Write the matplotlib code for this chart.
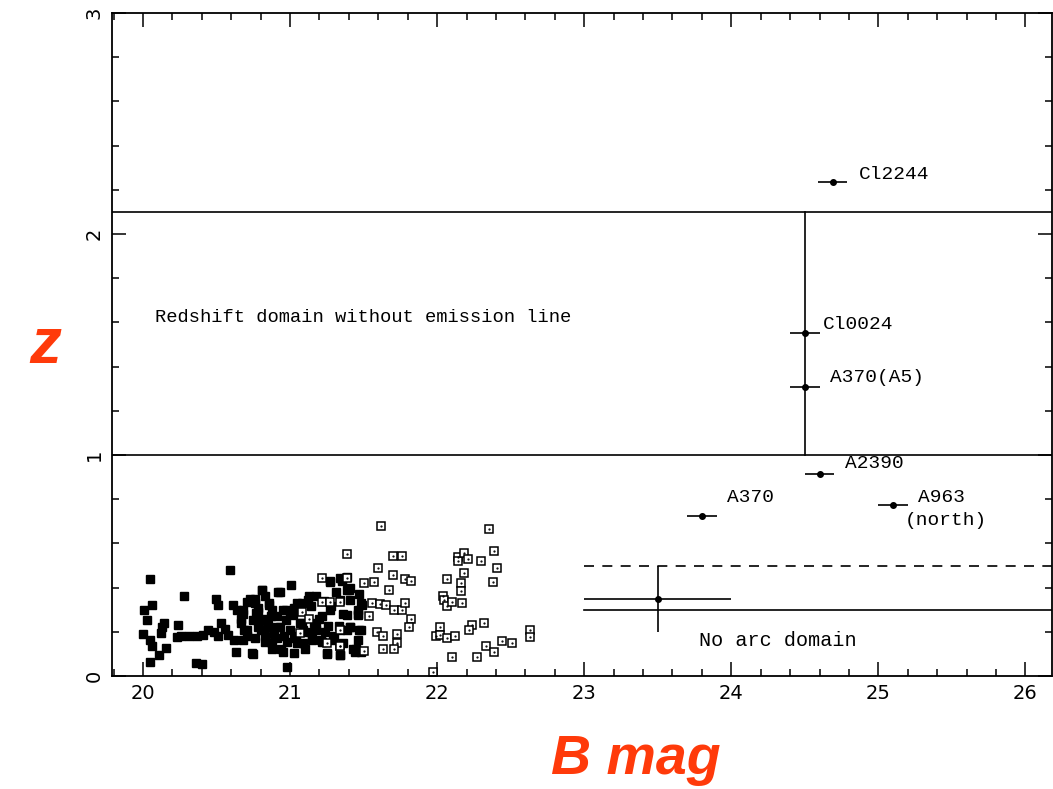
import matplotlib.pyplot as plt
from matplotlib.ticker import MultipleLocator

# --- datos ---
# galaxias de campo (cuadrados llenos)
filled_x = [20.045, 20.59, 20.28, 20.01, 20.06, 20.03, 20.14, 20.0, 20.05, 20.12, 20.13, 20.06,
            20.16, 20.11, 20.045, 20.24, 20.26, 20.23, 20.31, 20.36, 20.40, 20.37, 20.41, 20.44,
            20.48, 20.5, 20.51, 20.53, 20.51, 20.56, 20.58, 20.61, 20.62, 20.63, 20.64, 20.67,
            20.69, 20.71, 20.68, 20.73, 20.76, 20.78, 20.75, 20.77, 20.79, 20.81, 20.83, 20.80,
            20.83, 20.85, 20.86, 20.87, 20.88, 20.89, 20.91, 20.93, 20.94, 20.95, 20.96, 20.97,
            20.98, 21.0, 21.01, 21.03, 21.04, 21.05, 21.07, 21.08, 21.09, 21.10, 21.13, 21.14,
            21.15, 21.16, 21.18, 21.21, 21.22, 21.23, 21.25, 21.26, 21.27, 21.28, 21.30, 21.31,
            21.33, 21.34, 21.34, 21.35, 21.36, 21.39, 21.40, 21.39, 21.41, 21.44, 21.45, 21.46,
            21.47, 21.47, 21.49, 21.46, 21.35, 21.39, 21.48, 21.46, 21.41, 21.48, 21.43, 21.48,
            20.81, 20.76, 20.92, 20.86, 20.71, 20.68, 20.78, 20.88, 20.97, 21.05, 21.12, 21.18,
            21.27, 21.34, 21.41, 20.67, 20.75, 20.83, 20.91, 21.02, 21.08, 21.20, 21.27, 21.39,
            21.46, 20.71, 20.78, 20.85, 20.93, 21.0, 21.12, 21.18, 21.24, 21.34, 21.41, 20.68,
            20.76, 20.83, 20.91, 20.98, 21.03, 21.09, 21.15, 21.22, 21.29, 21.36, 20.74, 20.88,
            20.95, 21.03, 21.25, 21.34]
filled_y = [0.44, 0.48, 0.36, 0.30, 0.32, 0.255, 0.24, 0.19, 0.165, 0.195, 0.22, 0.135,
            0.125, 0.095, 0.065, 0.23, 0.18, 0.175, 0.18, 0.06, 0.055, 0.18, 0.185, 0.21,
            0.20, 0.35, 0.32, 0.24, 0.18, 0.215, 0.185, 0.32, 0.165, 0.11, 0.30, 0.24,
            0.21, 0.18, 0.28, 0.35, 0.33, 0.31, 0.10, 0.285, 0.25, 0.39, 0.36, 0.21,
            0.18, 0.23, 0.32, 0.27, 0.15, 0.19, 0.22, 0.38, 0.12, 0.30, 0.18, 0.255,
            0.04, 0.28, 0.41, 0.31, 0.18, 0.15, 0.24, 0.33, 0.21, 0.12, 0.36, 0.315,
            0.18, 0.24, 0.21, 0.165, 0.27, 0.34, 0.10, 0.225, 0.43, 0.315, 0.18, 0.38,
            0.225, 0.095, 0.345, 0.44, 0.28, 0.45, 0.39, 0.21, 0.345, 0.11, 0.12, 0.165,
            0.37, 0.21, 0.32, 0.28, 0.43, 0.39, 0.33, 0.275, 0.22, 0.21, 0.12, 0.11,
            0.39, 0.35, 0.38, 0.33, 0.335, 0.30, 0.29, 0.30, 0.30, 0.33, 0.345, 0.36,
            0.425, 0.445, 0.40, 0.26, 0.255, 0.26, 0.27, 0.275, 0.24, 0.26, 0.30, 0.275,
            0.30, 0.21, 0.22, 0.22, 0.22, 0.21, 0.20, 0.22, 0.20, 0.21, 0.22, 0.165,
            0.17, 0.155, 0.17, 0.155, 0.17, 0.15, 0.165, 0.155, 0.165, 0.15, 0.105, 0.12,
            0.11, 0.105, 0.105, 0.095]

# galaxias de campo (cuadrados abiertos)
open_x = [21.62, 22.35, 21.39, 21.70, 21.76, 21.60, 21.70, 21.78, 21.82, 21.50, 21.57, 21.67,
          21.56, 21.61, 21.65, 21.71, 21.76, 21.78, 21.54, 21.82, 21.81, 21.59, 21.63, 21.73,
          21.73, 21.63, 21.71, 21.34, 21.50, 21.97, 22.07, 22.14, 22.14, 22.18, 22.21, 22.30,
          22.39, 22.41, 22.38, 22.18, 22.16, 22.16, 22.04, 22.05, 22.07, 22.10, 22.17, 22.02,
          21.99, 22.02, 22.07, 22.12, 22.10, 22.24, 22.22, 22.32, 22.27, 22.33, 22.39, 22.44,
          22.51, 22.63, 22.63, 21.22, 21.22, 21.27, 21.34, 21.08, 21.13, 21.34, 21.25, 21.34,
          21.39, 21.07]
open_y = [0.68, 0.665, 0.55, 0.545, 0.545, 0.49, 0.455, 0.44, 0.43, 0.42, 0.425, 0.39,
          0.33, 0.325, 0.32, 0.30, 0.30, 0.33, 0.27, 0.26, 0.22, 0.20, 0.18, 0.19,
          0.15, 0.12, 0.12, 0.135, 0.115, 0.02, 0.44, 0.54, 0.52, 0.555, 0.53, 0.52,
          0.565, 0.49, 0.425, 0.465, 0.42, 0.385, 0.36, 0.345, 0.315, 0.335, 0.33, 0.22,
          0.18, 0.185, 0.17, 0.18, 0.085, 0.23, 0.21, 0.24, 0.085, 0.135, 0.11, 0.16,
          0.15, 0.21, 0.175, 0.445, 0.335, 0.335, 0.335, 0.29, 0.26, 0.21, 0.15, 0.135,
          0.445, 0.195]

# arcos con nombre
arc_names = ['Cl2244', 'Cl0024', 'A370(A5)', 'A2390', 'A370', 'A963', '(north)']
arc_b = [24.69, 24.5, 24.5, 24.6, 23.8, 25.1]
arc_z = [2.235, 1.55, 1.31, 0.914, 0.724, 0.774]
arc_berr = [0.1, 0.1, 0.1, 0.1, 0.1, 0.1]
label_pos = [(24.87, 2.27), (24.62, 1.59), (24.67, 1.35), (24.775, 0.96), (23.97, 0.81),
             (25.27, 0.81), (25.18, 0.705)]

# punto medio del dominio sin arcos
mid_b, mid_z, mid_berr, mid_zerr = 23.5, 0.35, 0.5, 0.15

fig = plt.figure(figsize=(10.53, 7.89), dpi=100)
ax = fig.add_axes([0.1064, 0.1432, 0.8926, 0.8403])
ax.set_xlim(19.79, 26.18)
ax.set_ylim(0, 3)

ax.plot(filled_x, filled_y, 's', color='black', markersize=5.2, linestyle='none')
ax.plot(open_x, open_y, 's', markerfacecolor='white', markeredgecolor='black',
        markersize=5.8, markeredgewidth=1.1, linestyle='none')
ax.plot(open_x, open_y, '.', color='black', markersize=1.2, linestyle='none')

# lineas de dominio
ax.axhline(2.1, color='black', lw=1.2)
ax.axhline(1.0, color='black', lw=1.2)
ax.plot([24.5, 24.5], [1.0, 2.1], color='black', lw=1.2)
ax.plot([23, 26.18], [0.5, 0.5], color='black', lw=1.2, linestyle=(0, (6, 5)))
ax.plot([23, 26.18], [0.3, 0.3], color='black', lw=1.2)

ax.errorbar(arc_b, arc_z, xerr=arc_berr, fmt='o', color='black', markersize=4,
            elinewidth=1.2, capsize=0)
ax.errorbar([mid_b], [mid_z], xerr=[mid_berr], yerr=[mid_zerr], fmt='o', color='black',
            markersize=4, elinewidth=1.2, capsize=0)

for name, (tx, ty) in zip(arc_names, label_pos):
    ax.text(tx, ty, name, family='Liberation Mono', fontsize=14, va='center', ha='left')

ax.text(20.08, 1.62, 'Redshift domain without emission line', family='Liberation Mono',
        fontsize=13.5, va='center')
ax.text(23.78, 0.16, 'No arc domain', family='Liberation Mono', fontsize=14.5, va='center')

# ejes
ax.xaxis.set_major_locator(MultipleLocator(1))
ax.xaxis.set_minor_locator(MultipleLocator(0.2))
ax.yaxis.set_major_locator(MultipleLocator(1))
ax.yaxis.set_minor_locator(MultipleLocator(0.2))
ax.tick_params(which='both', direction='in', top=True, right=True, width=1.1)
ax.tick_params(which='major', length=10, labelsize=14, pad=6)
ax.tick_params(which='minor', length=5)
for lab in ax.get_yticklabels():
    lab.set_rotation(90)
    lab.set_va('center')
for s in ax.spines.values():
    s.set_linewidth(1.3)

fig.text(0.043, 0.562, 'z', color='#ff3a0a', fontsize=46, fontweight='bold', style='italic',
         family='Liberation Sans', ha='center', va='center')
fig.text(0.604, 0.037, 'B mag', color='#ff3a0a', fontsize=40, fontweight='bold', style='italic',
         family='Liberation Sans', ha='center', va='center')

fig.savefig('out.png', dpi=100)
